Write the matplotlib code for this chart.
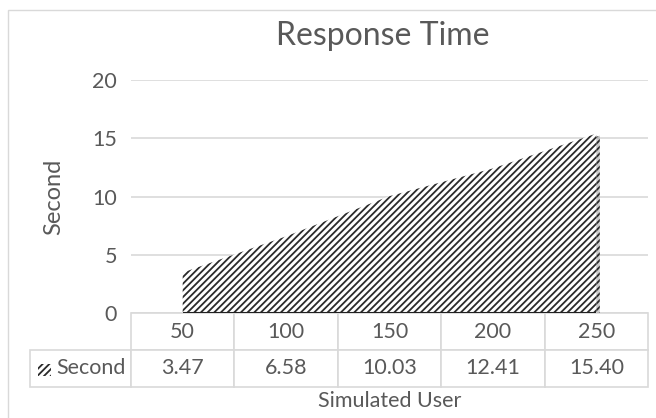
import matplotlib
matplotlib.use("Agg")
import matplotlib.pyplot as plt
import matplotlib.patheffects as pe
from matplotlib.patches import Rectangle

users = ["50", "100", "150", "200", "250"]
seconds = [3.47, 6.58, 10.03, 12.41, 15.40]
yticks = [0, 5, 10, 15, 20]

plt.rcParams['font.family'] = ['Lato', 'DejaVu Sans']
plt.rcParams['hatch.linewidth'] = 1.3
plt.rcParams['hatch.color'] = '#2a2a2a'

grey = '#595959'
line = '#d9d9d9'
fs = 15.5
W, H = 656, 418

fig = plt.figure(figsize=(W / 100, H / 100), dpi=100)
# outer chart border
fig.patches.append(Rectangle((8 / W, -0.1), 1.2, (H - 10) / H + 0.1, transform=fig.transFigure,
                             fill=False, edgecolor=line, linewidth=1))

ax = fig.add_axes([131 / W, (H - 313) / H, (648 - 131) / W, (313 - 80) / H])
x = list(range(len(users)))
area = ax.fill_between(x, seconds, 0, facecolor='white', hatch='/////', linewidth=0, zorder=3)
area.set_path_effects([pe.SimplePatchShadow(offset=(2.5, -1.5), shadow_rgbFace='#999999', alpha=0.5),
                       pe.Normal()])
ax.hlines(0, x[0], x[-1], color='#222222', linewidth=1.5, zorder=4)

ax.set_xlim(-0.5, len(users) - 0.5)
ax.set_ylim(0, 20)
ax.set_yticks(yticks)
ax.set_xticks([])
ax.tick_params(axis='y', length=0, labelsize=fs, labelcolor=grey, pad=10)
ax.grid(axis='y', color=line, linewidth=1.2)
ax.set_axisbelow(True)
for s in ax.spines.values():
    s.set_visible(False)

aw = 648 - 131
ah = 313 - 80
ax.text(-77 / aw, 0.5, "Second", transform=ax.transAxes, rotation=90, ha='center', va='center',
        fontsize=17, color=grey)

# data table
tbl = ax.table(cellText=[["Second"] + [f"{v:.2f}" for v in seconds]], colLabels=[""] + users,
               colWidths=[101 / aw] + [0.2] * 5, cellLoc='center',
               bbox=[(30 - 131) / aw, (313 - 387) / ah, 618 / aw, 74 / ah])
tbl.auto_set_font_size(False)
tbl.set_fontsize(fs)
for (r, c), cell in tbl.get_celld().items():
    cell.set_edgecolor(line)
    cell.set_linewidth(1.2)
    cell.get_text().set_color(grey)
tbl[0, 0].visible_edges = ''
tbl[1, 0].PAD = 0.05
tbl[1, 0].get_text().set_ha('right')
tbl[1, 0]._loc = 'right'

# legend key in the row label cell
ax.add_patch(Rectangle((-0.5 - 93 / aw * 5, (313 - 376) / ah * 20), 13 / aw * 5, 12 / ah * 20,
                       facecolor='white', hatch='/////', linewidth=0, clip_on=False, zorder=5))

ax.text(0.5, (313 - 401) / ah, "Simulated User", transform=ax.transAxes, ha='center',
        va='center', fontsize=fs, color=grey)

fig.text(383 / W, 1 - 45 / H, "Response Time", ha='center', va='baseline', fontsize=23, color=grey)

fig.savefig("out.png", dpi=100)
